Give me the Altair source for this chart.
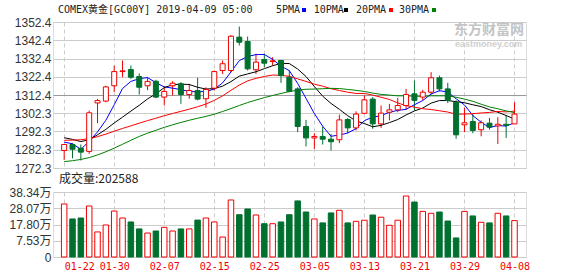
import altair as alt
import pandas as pd

# ---------------- data ----------------
tick_labels = ["01-22", "01-30", "02-07", "02-15", "02-25",
               "03-05", "03-13", "03-21", "03-29", "04-08"]

opens = [1281.9, 1285.2, 1283.2, 1281.4, 1308.0, 1309.0, 1317.4, 1325.2, 1326.3, 1322.5,
         1317.4, 1319.9, 1311.2, 1317.4, 1318.5, 1312.6, 1314.8, 1310.3, 1316.1, 1325.8,
         1325.8, 1344.1, 1341.7, 1326.2, 1331.8, 1330.7, 1331.3, 1322.1, 1315.7, 1295.1,
         1288.8, 1289.6, 1288.1, 1287.8, 1298.9, 1294.3, 1302.3, 1310.1, 1296.5, 1302.9,
         1304.2, 1306.6, 1313.0, 1311.2, 1313.9, 1321.8, 1315.7, 1308.4, 1296.0, 1297.8,
         1293.3, 1296.9, 1295.4, 1296.3, 1296.5]
highs = [1285.4, 1285.9, 1285.2, 1303.8, 1310.2, 1317.4, 1328.5, 1331.3, 1328.5, 1324.3,
         1322.1, 1320.7, 1317.0, 1319.9, 1319.4, 1318.5, 1321.8, 1316.6, 1325.8, 1331.3,
         1345.2, 1349.9, 1344.4, 1335.0, 1335.0, 1333.1, 1331.6, 1325.8, 1316.6, 1298.7,
         1291.4, 1295.1, 1291.0, 1301.6, 1299.8, 1303.4, 1312.1, 1311.2, 1306.6, 1307.5,
         1310.8, 1315.7, 1320.3, 1315.2, 1324.9, 1323.0, 1319.0, 1309.4, 1305.3, 1301.9,
         1298.4, 1299.8, 1300.2, 1301.4, 1308.4]
lows = [1276.8, 1277.6, 1276.4, 1280.1, 1296.9, 1308.4, 1313.9, 1322.1, 1321.2, 1312.6,
        1315.0, 1310.6, 1306.6, 1312.1, 1307.5, 1310.3, 1309.4, 1305.3, 1314.8, 1323.9,
        1324.9, 1339.5, 1325.8, 1323.9, 1327.6, 1328.5, 1319.0, 1313.9, 1292.0, 1284.1,
        1282.8, 1285.2, 1281.9, 1285.9, 1291.4, 1292.9, 1301.9, 1293.8, 1294.3, 1298.4,
        1302.9, 1304.2, 1303.8, 1309.4, 1312.6, 1314.4, 1307.9, 1288.3, 1292.0, 1291.4,
        1289.7, 1293.3, 1285.5, 1288.8, 1296.5]
closes = [1285.2, 1282.6, 1281.0, 1302.6, 1309.3, 1316.8, 1325.2, 1325.6, 1322.1, 1316.6,
          1319.8, 1311.2, 1314.3, 1318.8, 1312.6, 1314.8, 1310.1, 1315.4, 1325.2, 1329.5,
          1344.6, 1341.3, 1326.7, 1330.4, 1329.8, 1331.1, 1323.0, 1314.4, 1295.1, 1288.8,
          1289.6, 1288.1, 1286.7, 1298.7, 1294.3, 1301.9, 1309.7, 1296.5, 1302.4, 1304.2,
          1306.6, 1312.6, 1309.4, 1313.9, 1321.8, 1315.7, 1309.4, 1290.5, 1297.1, 1292.9,
          1297.1, 1294.7, 1296.3, 1295.6, 1301.9]
# volume in 万 (10k lots)
volumes = [30.76, 21.3, 21.9, 29.5, 13.1, 17.5, 26.3, 21.9, 19.4, 15.0,
           12.4, 13.7, 16.0, 13.7, 15.0, 15.0, 20.6, 21.9, 19.4, 9.9,
           33.3, 24.0, 27.6, 23.8, 18.3, 18.3, 19.4, 24.0, 32.7, 25.7,
           21.3, 18.8, 25.1, 26.8, 18.8, 19.8, 20.5, 23.8, 22.4, 17.3,
           20.5, 35.8, 32.0, 26.1, 24.9, 25.7, 20.0, 9.3, 26.1, 23.2,
           19.2, 18.8, 24.9, 23.2, 20.26]
ma5 = [1286.5, 1285.6, 1282.5, 1287.0, 1292.1, 1298.5, 1307.0, 1315.9, 1319.8, 1321.3,
       1321.9, 1319.1, 1316.8, 1316.1, 1315.3, 1314.3, 1314.1, 1314.3, 1315.6, 1319.0,
       1325.0, 1331.2, 1333.5, 1334.5, 1334.6, 1331.9, 1328.2, 1325.7, 1318.7, 1310.5,
       1302.2, 1295.2, 1289.7, 1290.4, 1291.5, 1293.9, 1298.3, 1300.2, 1301.0, 1302.9,
       1303.9, 1304.5, 1307.0, 1309.3, 1312.9, 1314.7, 1314.0, 1310.3, 1306.9, 1301.1,
       1297.4, 1294.5, 1295.6, 1295.3, 1297.1]
ma10 = [1288.9, 1288.0, 1286.8, 1287.8, 1290.5, 1293.5, 1297.0, 1300.2, 1303.5, 1306.7,
        1310.2, 1313.0, 1316.4, 1318.0, 1318.3, 1318.1, 1316.6, 1315.6, 1315.9, 1317.2,
        1319.7, 1322.7, 1323.9, 1325.1, 1326.8, 1328.4, 1329.7, 1329.6, 1326.6, 1322.5,
        1317.0, 1311.7, 1307.7, 1304.5, 1301.0, 1298.1, 1296.7, 1294.9, 1295.7, 1297.2,
        1298.9, 1301.4, 1303.6, 1305.2, 1307.9, 1309.3, 1309.3, 1308.7, 1308.1, 1307.0,
        1306.0, 1304.3, 1302.9, 1301.1, 1299.1]
ma20 = [1287.5, 1287.6, 1287.8, 1288.4, 1289.5, 1290.9, 1292.5, 1294.0, 1295.4, 1296.9,
        1298.3, 1299.6, 1301.0, 1302.2, 1303.4, 1304.6, 1305.9, 1307.4, 1309.4, 1311.9,
        1314.9, 1317.8, 1320.1, 1321.5, 1322.5, 1323.3, 1323.1, 1322.6, 1321.2, 1319.8,
        1318.3, 1317.2, 1315.8, 1314.8, 1313.9, 1313.2, 1313.2, 1312.3, 1311.1, 1309.9,
        1308.0, 1306.5, 1305.7, 1304.8, 1304.4, 1303.7, 1303.0, 1301.8, 1301.9, 1302.1,
        1302.5, 1302.8, 1303.3, 1303.1, 1303.5]
ma30 = [1275.8, 1276.3, 1277.0, 1278.0, 1279.5, 1281.2, 1283.2, 1285.3, 1287.5, 1289.6,
        1291.4, 1293.0, 1294.6, 1296.0, 1297.3, 1298.5, 1299.6, 1300.6, 1301.8, 1303.3,
        1304.9, 1306.6, 1308.2, 1309.6, 1310.9, 1312.1, 1313.2, 1314.2, 1315.0, 1315.5,
        1315.6, 1315.8, 1316.0, 1315.9, 1315.4, 1314.9, 1314.3, 1313.4, 1312.7, 1312.3,
        1311.9, 1311.9, 1311.7, 1311.6, 1311.9, 1311.9, 1311.9, 1311.1, 1310.1, 1308.9,
        1307.3, 1305.8, 1304.8, 1303.6, 1302.7]

title_text = "COMEX黄金[GC00Y] 2019-04-09 05:00"
ma_names = ["5PMA", "10PMA", "20PMA", "30PMA"]
ma_colors = ["#0000ff", "#000000", "#ff0000", "#008000"]
vol_text = "成交量:202588"

# ---------------- build tables ----------------
n = len(closes)
idx = list(range(n))
df = pd.DataFrame({"i": idx, "open": opens, "high": highs, "low": lows,
                   "close": closes, "vol": volumes})
df["dir"] = ["up" if c >= o else "down" for o, c in zip(opens, closes)]
ma_df = pd.DataFrame({"i": idx, "5PMA": ma5, "10PMA": ma10, "20PMA": ma20, "30PMA": ma30})

RED = "#f00000"
GREEN = "#00702f"
GRID = "#cccccc"
stroke_scale = alt.Scale(domain=["up", "down"], range=[RED, GREEN])
fill_scale = alt.Scale(domain=["up", "down"], range=["#ffffff", GREEN])

P_MIN, P_MAX = 1272.3, 1352.4
price_ticks = [P_MIN + k * (P_MAX - P_MIN) / 8 for k in range(9)]
mid_tick = price_ticks[4]
V_MAX, V_STEP = 38.34, 10.27
V_MIN = V_MAX - 4 * V_STEP
vol_ticks = [V_MIN + k * V_STEP for k in range(5)]

x_vals = list(range(0, n, 6))
X_DOMAIN = [-0.74, 54.78]
W = 473
H_PRICE = 146
H_VOL = 65

x_scale = alt.Scale(domain=X_DOMAIN, nice=False, zero=False)
x_axis_top = alt.Axis(values=x_vals, labels=False, ticks=False, domain=False, grid=True,
                      gridDash=[4, 3], gridColor=GRID, title=None)
label_js = "[" + ",".join("'%s'" % t for t in tick_labels) + "]"
x_axis_bot = alt.Axis(values=x_vals, ticks=False, domain=False, grid=True,
                      gridDash=[4, 3], gridColor=GRID, title=None,
                      labelExpr=label_js + "[round(datum.value/6)]",
                      labelColor=RED, labelFont="DejaVu Sans Mono", labelFontSize=10,
                      labelPadding=4, labelOverlap=False, labelFlush=False,
                      labelAlign={"condition": {"test": "datum.value == 0", "value": "left"},
                                  "value": "center"})
p_scale = alt.Scale(domain=[P_MIN, P_MAX], nice=False, zero=False)
p_axis = alt.Axis(values=price_ticks, ticks=False, domain=False, title=None,
                  labelExpr="format(datum.value + 0.001, '.1f')",
                  labelFont="Liberation Sans", labelFontSize=12, labelColor="#333333",
                  labelPadding=2, grid=True,
                  gridColor={"condition": {"test": "abs(datum.value - %f) < 0.01" % mid_tick,
                                           "value": "#999999"}, "value": GRID},
                  labelOverlap=False)

X = alt.X("i:Q", scale=x_scale, axis=x_axis_top)

wicks = alt.Chart(df).mark_rule(strokeWidth=1).encode(
    x=X,
    y=alt.Y("low:Q", scale=p_scale, axis=p_axis),
    y2="high:Q",
    stroke=alt.Stroke("dir:N", scale=stroke_scale, legend=None),
)
bodies = alt.Chart(df).mark_bar(size=5, strokeWidth=1).encode(
    x=X,
    y=alt.Y("open:Q", scale=p_scale, axis=p_axis),
    y2="close:Q",
    fill=alt.Fill("dir:N", scale=fill_scale, legend=None),
    stroke=alt.Stroke("dir:N", scale=stroke_scale, legend=None),
)
lines = alt.Chart(ma_df).transform_fold(ma_names, as_=["ma", "val"]).mark_line(
    strokeWidth=1).encode(
    x=X,
    y=alt.Y("val:Q", scale=p_scale, axis=p_axis),
    color=alt.Color("ma:N", scale=alt.Scale(domain=ma_names, range=ma_colors), legend=None),
    detail="ma:N",
)

mono = "DejaVu Sans Mono, Noto Sans CJK SC"
txt = pd.DataFrame({"t": [title_text]})
title = alt.Chart(txt).mark_text(align="left", baseline="middle", font=mono, fontSize=10,
                                 color="#222222").encode(
    text="t:N", x=alt.value(5), y=alt.value(-12.5))

legend_layers = []
legend_x = [223, 260.7, 303, 346]
legend_sq = [251, 293, 338, 381]
for name, col, lx, sx in zip(ma_names, ma_colors, legend_x, legend_sq):
    legend_layers.append(
        alt.Chart(pd.DataFrame({"t": [name]})).mark_text(
            align="left", baseline="middle", font=mono, fontSize=10, color="#222222").encode(
            text="t:N", x=alt.value(lx), y=alt.value(-12.5)))
    legend_layers.append(
        alt.Chart(pd.DataFrame({"t": [name]})).mark_square(
            size=16, color=col, opacity=1, filled=True).encode(
            x=alt.value(sx), y=alt.value(-12)))

wm1 = alt.Chart(pd.DataFrame({"t": ["东方财富网"]})).mark_text(
    align="left", baseline="middle", font="Noto Sans CJK SC", fontSize=14, fontWeight="bold",
    color="#c4c4c4").encode(text="t:N", x=alt.value(401), y=alt.value(7.5))
wm2 = alt.Chart(pd.DataFrame({"t": ["eastmoney.com"]})).mark_text(
    align="left", baseline="middle", font="Liberation Sans", fontSize=9, fontWeight="bold",
    color="#cfcfcf").encode(text="t:N", x=alt.value(402), y=alt.value(21.5))

price = alt.layer(wicks, lines, bodies, wm1, wm2, title, *legend_layers).properties(
    width=W, height=H_PRICE)

v_scale = alt.Scale(domain=[V_MIN, V_MAX], nice=False, zero=False)
v_axis = alt.Axis(values=vol_ticks, ticks=False, domain=False, title=None,
                  labelExpr="datum.value < 0 ? '0' : format(datum.value, '.2f') + '万'",
                  labelFont="Liberation Sans, Noto Sans CJK SC", labelFontSize=12,
                  labelColor="#333333", labelPadding=2, grid=True, gridColor=GRID,
                  labelOverlap=False)
vbars = alt.Chart(df).mark_bar(size=5.5, strokeWidth=1).encode(
    x=alt.X("i:Q", scale=x_scale, axis=x_axis_bot),
    y=alt.Y("vol:Q", scale=v_scale, axis=v_axis),
    y2=alt.datum(V_MIN),
    fill=alt.Fill("dir:N", scale=fill_scale, legend=None),
    stroke=alt.Stroke("dir:N", scale=stroke_scale, legend=None),
)
vlabel = alt.Chart(pd.DataFrame({"t": [vol_text]})).mark_text(
    align="left", baseline="middle", font="Noto Sans CJK SC", fontSize=12,
    color="#222222").encode(text="t:N", x=alt.value(6), y=alt.value(-13.5))
volume = alt.layer(vbars, vlabel).properties(width=W, height=H_VOL)

chart = alt.vconcat(price, volume, spacing=24, bounds="flush").properties(
    padding={"left": 8, "top": 4, "right": 0, "bottom": 0}
).configure_view(stroke="#999999", strokeWidth=1.5).configure(background="#ffffff")

chart.save("out.html", embed_options={"renderer": "svg", "actions": False})
